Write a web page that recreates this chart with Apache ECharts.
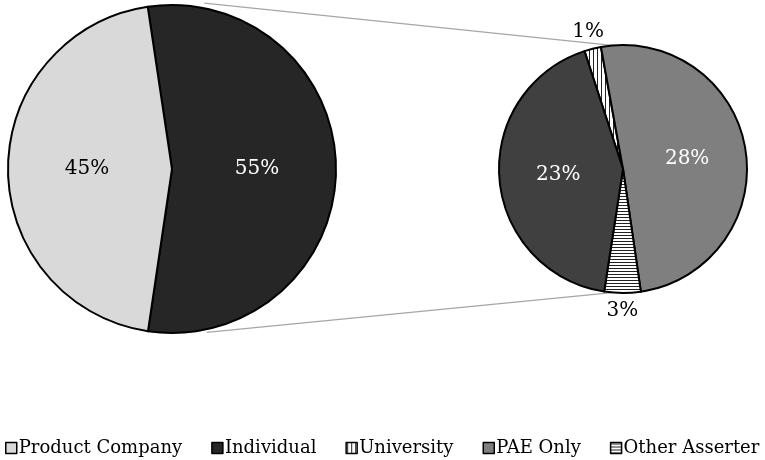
<!DOCTYPE html>
<html>
<head>
<meta charset="utf-8">
<style>
  html, body { margin: 0; padding: 0; background: #fff; }
  #container { width: 765px; height: 460px; }
</style>
<script src="https://cdn.jsdelivr.net/npm/echarts@6/dist/echarts.min.js"></script>
</head>
<body>
<div id="container"></div>
<script>
var dom = document.getElementById('container');
var myChart = echarts.init(dom);

// main pie
var mainNames = ['Individual', 'Product Company'];
var mainValues = [54.7, 45.3];

// breakdown pie (shares of the total)
var subNames = ['University', 'PAE Only', 'Other Asserter', 'Individual'];
var subValues = [1.2, 27.8, 2.6, 23.4];

var legendNames = ['Product Company', 'Individual', 'University', 'PAE Only', 'Other Asserter'];

var FONT = 'DejaVu Serif';
var LEFT = { cx: 172, cy: 169, r: 164 };
var RIGHT = { cx: 623, cy: 169, r: 124 };

function stripes(vertical) {
    var c = document.createElement('canvas');
    c.width = 4;
    c.height = vertical ? 4 : 3;
    var ctx = c.getContext('2d');
    ctx.fillStyle = '#fff';
    ctx.fillRect(0, 0, c.width, c.height);
    ctx.fillStyle = '#222';
    if (vertical) {
        ctx.fillRect(1, 0, 1, 4);
    } else {
        ctx.fillRect(0, 1, 4, 1);
    }
    return { image: c, repeat: 'repeat' };
}

var mainColors = {
    'Individual': '#262626',
    'Product Company': '#d9d9d9'
};
var subColors = {
    'University': stripes(true),
    'PAE Only': '#7f7f7f',
    'Other Asserter': stripes(false),
    'Individual': '#404040'
};
var lightText = { 'Individual': '#fff', 'PAE Only': '#fff' };
var outsideLabel = { 'University': true, 'Other Asserter': true };

var mainData = mainNames.map(function (n, i) {
    return {
        name: n,
        value: mainValues[i],
        itemStyle: { color: mainColors[n] },
        label: { color: lightText[n] || '#000' }
    };
});

var subData = subNames.map(function (n, i) {
    var item = {
        name: n,
        value: subValues[i],
        itemStyle: { color: subColors[n] },
        label: { color: lightText[n] || '#000' }
    };
    if (outsideLabel[n]) {
        item.label.position = 'outside';
        item.label.distanceToLabelLine = 0;
        item.labelLine = { show: false, length: 18, length2: 0 };
    }
    return item;
});

// connector line end points (on the circles)
function pt(c, deg, extra) {
    var a = deg * Math.PI / 180;
    var rr = c.r + (extra || 0);
    return [c.cx + rr * Math.sin(a), c.cy - rr * Math.cos(a)];
}
var topA = pt(LEFT, 11, 5), topB = pt(RIGHT, -5);
var botA = pt(LEFT, 168, 3), botB = pt(RIGHT, 185);

var pctLabel = {
    show: true,
    position: 'inside',
    fontFamily: FONT,
    fontSize: 20,
    formatter: function (p) {
        return Math.round(p.value) + '%';
    }
};

var option = {
    animation: false,
    backgroundColor: '#fff',
    legend: {
        data: legendNames,
        left: 0,
        top: 434,
        width: 900,
        icon: 'rect',
        itemWidth: 11,
        itemHeight: 11,
        itemGap: 29,
        selectedMode: false,
        itemStyle: { borderColor: '#000', borderWidth: 1.5 },
        textStyle: { fontFamily: FONT, fontSize: 18, color: '#000', padding: [0, 0, 0, -3] }
    },
    graphic: [{
        type: 'line',
        z: 0,
        shape: { x1: topA[0], y1: topA[1], x2: topB[0], y2: topB[1] },
        style: { stroke: '#a6a6a6', lineWidth: 1.3 }
    }, {
        type: 'line',
        z: 0,
        shape: { x1: botA[0], y1: botA[1], x2: botB[0], y2: botB[1] },
        style: { stroke: '#a6a6a6', lineWidth: 1.3 }
    }],
    series: [{
        name: 'main',
        type: 'pie',
        center: [LEFT.cx, LEFT.cy],
        radius: LEFT.r,
        startAngle: 98.5,
        clockwise: true,
        silent: true,
        z: 5,
        data: mainData,
        label: pctLabel,
        labelLine: { show: false },
        itemStyle: { borderColor: '#000', borderWidth: 2 },
        emphasis: { disabled: true }
    }, {
        name: 'breakdown',
        type: 'pie',
        center: [RIGHT.cx, RIGHT.cy],
        radius: RIGHT.r,
        startAngle: 108.1,
        clockwise: true,
        silent: true,
        z: 5,
        avoidLabelOverlap: false,
        data: subData,
        label: pctLabel,
        labelLine: { show: false },
        labelLayout: function () {
            return { align: 'center' };
        },
        itemStyle: { borderColor: '#000', borderWidth: 2 },
        emphasis: { disabled: true }
    }]
};

if (option && typeof option === 'object') {
    myChart.setOption(option, true);
}
</script>
</body>
</html>
